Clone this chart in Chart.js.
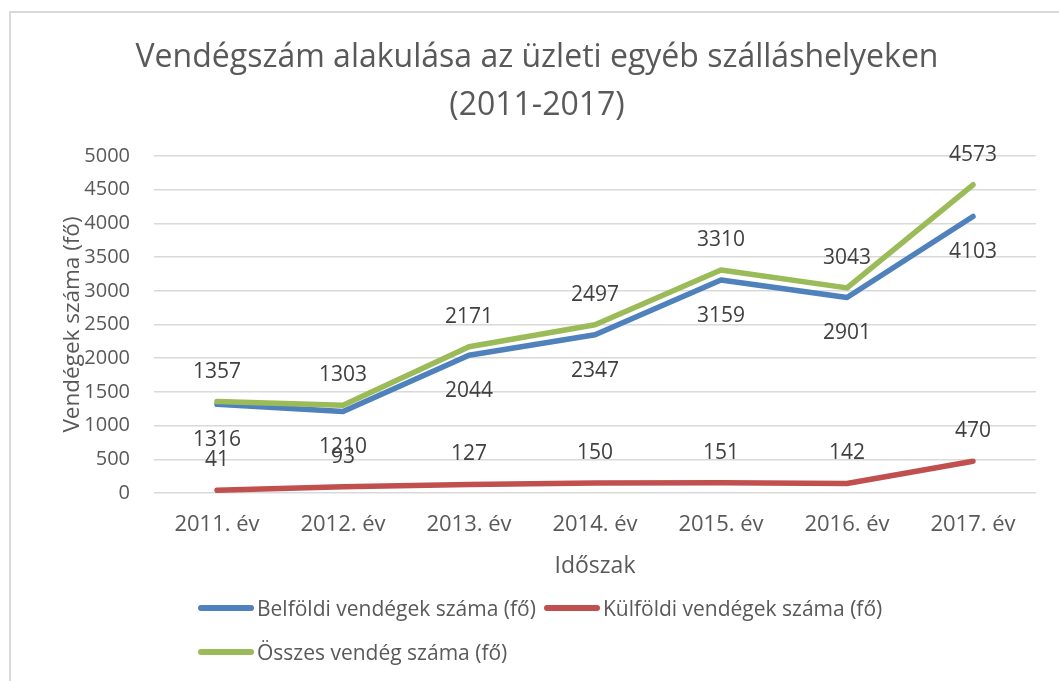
<!DOCTYPE html>
<html>
<head>
<meta charset="utf-8">
<script src="https://cdn.jsdelivr.net/npm/chart.js@4.4.1/dist/chart.umd.min.js"></script>
<style>
html, body { margin: 0; padding: 0; background: #fff; }
#wrap { position: relative; width: 1059px; height: 681px; overflow: hidden; }
#frame { position: absolute; left: 9px; top: 11px; width: 1052px; height: 700px; border: 2px solid #d9d9d9; box-sizing: border-box; }
#chart { position: absolute; left: 0; top: 0; }
#legend { position: absolute; left: 198px; top: 585.5px; width: 700px; display: flex; flex-wrap: wrap;
  font-family: 'Open Sans', sans-serif; font-size: 21px; color: #595959; }
.item { display: flex; align-items: center; height: 44.5px; margin-right: 8px; }
.swatch { width: 56px; height: 6px; border-radius: 3px; margin-right: 3px; }
.txt { white-space: nowrap; }
</style>
</head>
<body>
<div id="wrap">
  <div id="frame"></div>
  <canvas id="chart" width="1059" height="681"></canvas>
  <div id="legend"></div>
</div>
<script>
// chart data
var years = ['2011. év', '2012. év', '2013. év', '2014. év', '2015. év', '2016. év', '2017. év'];
var belfoldi = [1316, 1210, 2044, 2347, 3159, 2901, 4103];
var kulfoldi = [41, 93, 127, 150, 151, 142, 470];
var osszes = [1357, 1303, 2171, 2497, 3310, 3043, 4573];
var seriesNames = ['Belföldi vendégek száma (fő)', 'Külföldi vendégek száma (fő)', 'Összes vendég száma (fő)'];
var titleLines = ['Vendégszám alakulása az üzleti egyéb szálláshelyeken', '(2011-2017)'];
var xTitle = 'Időszak';
var yTitle = 'Vendégek száma (fő)';
var yMin = 0, yMax = 5000, yStep = 500;

var colors = ['#4F81BD', '#C0504D', '#9BBB59'];
var FONT = "'Open Sans', sans-serif";
var GREY = '#595959';

// value labels next to every point
var valueLabels = {
    id: 'valueLabels',
    afterDatasetsDraw: function (chart) {
        var ctx = chart.ctx;
        ctx.save();
        ctx.font = '21px ' + FONT;
        ctx.fillStyle = '#404040';
        ctx.textAlign = 'center';
        ctx.textBaseline = 'middle';
        chart.data.datasets.forEach(function (ds, i) {
            chart.getDatasetMeta(i).data.forEach(function (pt, j) {
                ctx.fillText(String(ds.data[j]), pt.x, pt.y + ds.labelShift);
            });
        });
        ctx.restore();
    }
};

function lineSet(name, data, color, order, shift) {
    return {
        label: name,
        data: data,
        borderColor: color,
        backgroundColor: color,
        borderWidth: 5.5,
        borderCapStyle: 'round',
        borderJoinStyle: 'round',
        pointRadius: 0,
        tension: 0,
        fill: false,
        order: order,
        labelShift: shift
    };
}

function showGraph()
{
    new Chart(document.getElementById('chart'), {
        type: 'line',
        data: {
            labels: years,
            datasets: [
                lineSet(seriesNames[0], belfoldi, colors[0], 1, 36),
                lineSet(seriesNames[1], kulfoldi, colors[1], 2, -30),
                lineSet(seriesNames[2], osszes, colors[2], 0, -30)
            ]
        },
        options: {
            responsive: false,
            animation: false,
            layout: { padding: { left: 15, right: 0, top: 11, bottom: 98 } },
            plugins: {
                legend: { display: false },
                tooltip: { enabled: false },
                title: {
                    display: true,
                    text: titleLines,
                    color: GREY,
                    font: { family: FONT, size: 32, weight: 'normal', lineHeight: 1.5 },
                    padding: { top: 23, bottom: 26 }
                }
            },
            scales: {
                x: {
                    offset: true,
                    grid: { display: false, drawTicks: false, offset: true },
                    border: { display: false },
                    ticks: { color: GREY, font: { family: FONT, size: 22 }, padding: 19 },
                    title: { display: true, text: xTitle, color: GREY, font: { family: FONT, size: 23 }, padding: { top: 0, bottom: 3 } },
                    afterFit: function (s) { s.width; s.height = 90; }
                },
                y: {
                    min: yMin,
                    max: yMax,
                    ticks: {
                        stepSize: yStep, color: GREY, font: { family: FONT, size: 20 }, padding: 24,
                        callback: function (v) { return String(v); }
                    },
                    grid: { color: '#d9d9d9', lineWidth: 1.5, drawTicks: false },
                    border: { display: false },
                    title: { display: true, text: yTitle, color: GREY, font: { family: FONT, size: 22.5 }, padding: { top: 44.5, bottom: 0 } },
                    afterFit: function (s) { s.width = 139; }
                },
                y2: {
                    position: 'right',
                    grid: { display: false, drawTicks: false },
                    border: { display: false },
                    ticks: { display: false },
                    afterFit: function (s) { s.width = 23; }
                }
            }
        },
        plugins: [valueLabels]
    });

    // legend below the chart
    var legend = document.getElementById('legend');
    seriesNames.forEach(function (name, i) {
        var item = document.createElement('div');
        item.className = 'item';
        var sw = document.createElement('div');
        sw.className = 'swatch';
        sw.style.background = colors[i];
        var t = document.createElement('span');
        t.className = 'txt';
        t.textContent = name;
        item.appendChild(sw);
        item.appendChild(t);
        legend.appendChild(item);
    });
}

document.fonts.load('20px "Open Sans"').then(showGraph, showGraph);
</script>
</body>
</html>
